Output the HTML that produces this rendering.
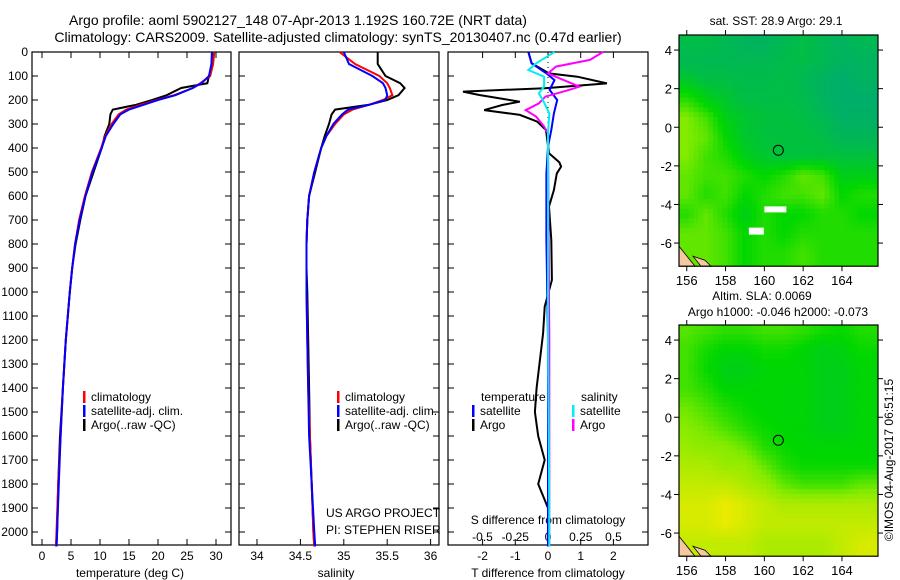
<!DOCTYPE html>
<html><head><meta charset="utf-8">
<style>
html,body{margin:0;padding:0;background:#fff;}
svg{display:block;font-family:"Liberation Sans",sans-serif;}
text{font-size:12px;fill:#000;}
</style></head>
<body>
<svg id="chart" width="900" height="580" viewBox="0 0 900 580" xmlns="http://www.w3.org/2000/svg">
<text x="298" y="25" text-anchor="middle" style="font-size:14px">Argo profile: aoml 5902127_148 07-Apr-2013 1.192S 160.72E (NRT data)</text>
<text x="338" y="42" text-anchor="middle" style="font-size:14px">Climatology: CARS2009. Satellite-adjusted climatology: synTS_20130407.nc (0.47d earlier)</text>
<text x="776" y="25" text-anchor="middle">sat. SST: 28.9 Argo: 29.1</text>
<text x="762" y="300" text-anchor="middle">Altim. SLA: 0.0069</text>
<text x="778" y="316" text-anchor="middle">Argo h1000: -0.046 h2000: -0.073</text>
<text transform="translate(893,460) rotate(-90)" text-anchor="middle">©IMOS 04-Aug-2017 06:51:15</text>
<g id="g"></g>
</svg>
<script>
// ---- profile data ----
const depths = [0,50,100,130,150,180,200,220,240,260,300,350,400,500,600,700,800,900,1000,1200,1400,1600,1800,2000,2060];
const tempClim = [29.7,29.5,29,27.3,26,22.8,19.8,17,14.5,13.2,12,10.9,10.2,8.6,7.4,6.4,5.7,5.2,4.8,4.1,3.6,3.2,2.8,2.5,2.4];
const tempSat = [29.3,29.2,28.8,27.5,26,23,20,17.5,15,13.5,12.3,11,10.3,8.7,7.5,6.5,5.7,5.2,4.8,4.1,3.6,3.2,2.9,2.6,2.5];
const tempArgo = [29.5,29.4,28.8,28.5,24,21.5,19,16.2,12.2,11.8,11.6,10.8,10.3,8.9,7.5,6.6,5.8,5.2,4.8,4.1,3.6,3.1,2.8,2.6,2.5];
const salClim = [34.95,35.13,35.41,35.5,35.53,35.56,35.45,35.29,35.1,35.0,34.9,34.8,34.74,34.66,34.6,34.58,34.57,34.57,34.57,34.58,34.59,34.61,34.63,34.65,34.66];
const salSat = [35.0,35.06,35.33,35.45,35.48,35.5,35.48,35.29,35.05,34.98,34.88,34.8,34.74,34.66,34.6,34.58,34.57,34.57,34.57,34.58,34.59,34.6,34.63,34.66,34.67];
const salArgo = [35.39,35.39,35.48,35.65,35.7,35.63,35.5,35.29,34.9,34.86,34.83,34.78,34.74,34.67,34.6,34.58,34.57,34.57,34.58,34.59,34.6,34.61,34.63,34.65,34.66];
const dTArgoDepth = [0,47,89,103,131,151,165,179,207,221,242,262,290,325,422,460,478,506,575,644,783,950,1061,1172,1400,1500,1600,1700,1800,1900,2000,2060];
const dTArgo = [-0.6,-0.5,0.03,0.9,1.8,-0.1,-2.6,-2.1,-0.86,-1.4,-1.95,-0.86,-0.33,-0.06,0.03,0.35,0.4,0.27,0.18,0.03,0.1,0.12,-0.1,-0.15,-0.35,-0.4,-0.3,-0.1,-0.3,0,0,0];
const dTSatDepth = [0,47,89,117,158,200,256,325,394,506,783,1200,2060];
const dTSat = [-0.6,-0.5,-0.05,0.2,0.05,0.28,0.18,0.1,0,-0.05,-0.05,0,0];
const dSSatDepth = [0,47,75,103,144,172,200,256,339,1200,1900,2060];
const dSSat = [0.05,-0.09,-0.15,-0.03,-0.03,-0.07,-0.04,0.01,0,0,0.01,0.01];
const dSArgoDepth = [0,33,61,89,110,144,158,186,214,242,269,311,339,1200,2060];
const dSArgo = [0.42,0.32,0.06,0,0.09,0.24,0.16,-0.02,-0.07,-0.17,-0.09,-0.03,0,0.01,0.01];
const depthTicks = [0,100,200,300,400,500,600,700,800,900,1000,1100,1200,1300,1400,1500,1600,1700,1800,1900,2000];
const tempTicks = [0,5,10,15,20,25,30];
const salTicks = [34,34.5,35,35.5,36];
const dTTicks = [-2,-1,0,1,2];
const dSTicks = [-0.5,-0.25,0,0.25,0.5];
const dSTickLabels = ['-0.5','-0.25','0','0.25','0.5'];
// ---- map data (rows from lat 4.5 down to -7, cols lon 156..165) ----
const sstGrid = [
[0.4,0.4,0.35,0.3,0.3,0.35,0.4,0.35,0.3,0.35],
[0.35,0.35,0.35,0.35,0.35,0.38,0.4,0.35,0.3,0.3],
[0.45,0.4,0.4,0.38,0.38,0.4,0.35,0.3,0.25,0.3],
[0.6,0.5,0.45,0.4,0.4,0.4,0.38,0.3,0.25,0.25],
[0.75,0.65,0.5,0.45,0.42,0.42,0.4,0.35,0.28,0.28],
[0.75,0.7,0.55,0.45,0.42,0.42,0.42,0.4,0.33,0.33],
[0.75,0.65,0.6,0.5,0.45,0.42,0.42,0.42,0.42,0.42],
[0.7,0.65,0.65,0.6,0.55,0.6,0.7,0.65,0.5,0.5],
[0.7,0.6,0.65,0.55,0.6,0.65,0.65,0.7,0.55,0.6],
[0.6,0.7,0.6,0.5,0.6,0.55,0.55,0.6,0.6,0.55],
[0.7,0.7,0.65,0.55,0.6,0.55,0.6,0.6,0.6,0.6],
[0.7,0.7,0.65,0.55,0.6,0.6,0.65,0.6,0.6,0.6]];
const slaGrid = [
[0.68,0.65,0.62,0.62,0.65,0.65,0.62,0.58,0.56,0.6],
[0.65,0.58,0.54,0.54,0.57,0.57,0.54,0.5,0.52,0.56],
[0.65,0.56,0.5,0.5,0.54,0.54,0.54,0.5,0.5,0.54],
[0.65,0.6,0.54,0.54,0.54,0.54,0.54,0.5,0.5,0.54],
[0.72,0.66,0.6,0.56,0.54,0.54,0.54,0.5,0.5,0.54],
[0.76,0.72,0.66,0.6,0.56,0.54,0.54,0.5,0.5,0.54],
[0.8,0.77,0.76,0.7,0.6,0.56,0.54,0.54,0.54,0.54],
[0.85,0.85,0.8,0.8,0.7,0.6,0.56,0.56,0.56,0.56],
[0.9,0.9,0.9,0.85,0.8,0.7,0.65,0.65,0.65,0.7],
[0.95,0.95,1,0.95,0.9,0.85,0.85,0.85,0.85,0.85],
[0.95,0.95,1,0.95,0.9,0.9,0.9,0.9,0.9,0.9],
[0.9,0.9,0.9,0.9,0.85,0.85,0.85,0.85,0.9,0.95]];
const lonTicks = [156,158,160,162,164];
const latTicks = [4,2,0,-2,-4,-6];
const argoLon = 160.72, argoLat = -1.192;

const NS='http://www.w3.org/2000/svg';
const G=document.getElementById('g');
function mk(tag,attrs,parent){const e=document.createElementNS(NS,tag);for(const k in attrs)e.setAttribute(k,attrs[k]);(parent||G).appendChild(e);return e;}
const TOP=52, BOT=545;
const yD = d => TOP + d*0.24;
const xT = t => 42 + t*5.8;
const xS = s => 257 + (s-34)*86.8;
const xdT = v => 548 + v*32.7;
const xdS = v => 548 + v*131;

function frame(x0,x1,name){
  const r=mk('rect',{x:x0,y:TOP,width:x1-x0,height:BOT-TOP,fill:'none',stroke:'#000','stroke-width':1.2});
  
  
  depthTicks.forEach(d=>{
    mk('line',{x1:x0,x2:x0+6,y1:yD(d),y2:yD(d),stroke:'#000'});
    mk('line',{x1:x1,x2:x1-6,y1:yD(d),y2:yD(d),stroke:'#000'});
  });
}
function line(xs,ds,fx,color,name,w){
  const pts=xs.map((v,i)=>fx(v).toFixed(1)+','+yD(ds[i]).toFixed(1)).join(' ');
  const p=mk('polyline',{points:pts,fill:'none',stroke:color,'stroke-width':w||2});
  
  
}
function txt(x,y,s,anchor,name){
  const t=mk('text',{x:x,y:y,'text-anchor':anchor||'start'});t.textContent=s;
  
  
  return t;
}
function legendItem(bx,y,color,label,name){
  mk('rect',{x:bx,y:y-6,width:2.5,height:12,fill:color});
  txt(bx+8,y+4,label,'start',name);
}

// panel 1: temperature
frame(32,231,'temperature-panel');
depthTicks.forEach(d=>txt(28,yD(d)+4,String(d),'end','depth-tick-label'));
tempTicks.forEach(t=>{mk('line',{x1:xT(t),x2:xT(t),y1:BOT,y2:BOT-6,stroke:'#000'});mk('line',{x1:xT(t),x2:xT(t),y1:TOP,y2:TOP+6,stroke:'#000'});txt(xT(t),560,String(t),'middle','temperature-tick-label');});
txt(130,577,'temperature (deg C)','middle','temperature-axis-title');
line(tempArgo,depths,xT,'#000','temperature-argo-line');
line(tempClim,depths,xT,'#f00','temperature-climatology-line');
line(tempSat,depths,xT,'#00f','temperature-satellite-line');
legendItem(83,397,'#f00','climatology','legend-climatology');
legendItem(83,411,'#00f','satellite-adj. clim.','legend-satellite');
legendItem(83,425,'#000','Argo(..raw -QC)','legend-argo');

// panel 2: salinity
frame(239,439,'salinity-panel');
salTicks.forEach(s=>{mk('line',{x1:xS(s),x2:xS(s),y1:BOT,y2:BOT-6,stroke:'#000'});txt(xS(s),560,String(s),'middle','salinity-tick-label');});
txt(336,577,'salinity','middle','salinity-axis-title');
line(salArgo,depths,xS,'#000','salinity-argo-line');
line(salClim,depths,xS,'#f00','salinity-climatology-line');
line(salSat,depths,xS,'#00f','salinity-satellite-line');
legendItem(337,397,'#f00','climatology','legend-climatology-2');
legendItem(337,411,'#00f','satellite-adj. clim.','legend-satellite-2');
legendItem(337,425,'#000','Argo(..raw -QC)','legend-argo-2');
txt(326,517,'US ARGO PROJECT','start','project-label');
txt(326,534,'PI: STEPHEN RISER','start','pi-label');

// panel 3: differences
frame(448,648,'difference-panel');
dTTicks.forEach(t=>{mk('line',{x1:xdT(t),x2:xdT(t),y1:BOT,y2:BOT-6,stroke:'#000'});mk('line',{x1:xdT(t),x2:xdT(t),y1:TOP,y2:TOP+6,stroke:'#000'});txt(xdT(t),560,String(t),'middle','t-diff-tick-label');});
dSTicks.forEach((s,i)=>txt(xdS(s),541,dSTickLabels[i],'middle','s-diff-tick-label'));
mk('line',{x1:548,x2:548,y1:TOP,y2:BOT,stroke:'#000','stroke-dasharray':'1,4'});
txt(548,524,'S difference from climatology','middle','s-diff-axis-title');
txt(548,577,'T difference from climatology','middle','t-diff-axis-title');
line(dTArgo,dTArgoDepth,xdT,'#000','t-diff-argo-line');
line(dTSat,dTSatDepth,xdT,'#00f','t-diff-satellite-line');
line(dSArgo,dSArgoDepth,xdS,'#f0f','s-diff-argo-line');
line(dSSat,dSSatDepth,xdS,'#0ee','s-diff-satellite-line');
txt(481,401,'temperature','start','legend-temperature-header');
legendItem(472,411,'#00f','satellite','legend-t-satellite');
legendItem(472,425,'#000','Argo','legend-t-argo');
txt(581,401,'salinity','start','legend-salinity-header');
legendItem(572,411,'#0ee','satellite','legend-s-satellite');
legendItem(572,425,'#f0f','Argo','legend-s-argo');

// maps
const stops=[[0.2,[0,168,120]],[0.4,[0,190,70]],[0.55,[0,215,0]],[0.75,[130,235,0]],[1.0,[235,235,0]]];
function cmap(v){
  if(v<=stops[0][0])return 'rgb('+stops[0][1]+')';
  for(let i=1;i<stops.length;i++){if(v<=stops[i][0]){const a=stops[i-1],b=stops[i],f=(v-a[0])/(b[0]-a[0]);return 'rgb('+a[1].map((c,j)=>Math.round(c+(b[1][j]-c)*f)).join(',')+')';}}
  return 'rgb('+stops[stops.length-1][1]+')';
}
function sample(grid,lon,lat){
  // bilinear between cell centres (lon 156..165, lat 4.5..-6.5)
  let cx=lon-156, cy=4.5-lat;
  cx=Math.max(0,Math.min(9,cx)); cy=Math.max(0,Math.min(11,cy));
  const c0=Math.floor(cx), r0=Math.floor(cy), c1=Math.min(9,c0+1), r1=Math.min(11,r0+1);
  const fx=cx-c0, fy=cy-r0;
  return grid[r0][c0]*(1-fx)*(1-fy)+grid[r0][c1]*fx*(1-fy)+grid[r1][c0]*(1-fx)*fy+grid[r1][c1]*fx*fy;
}
function drawMap(grid,top,name){
  const L=679,R=878,lon0=155.6,sc=19.4,latTop=4.78;
  const bot=top+(latTop+7.2)*19.3;
  const xL=lon=>L+(lon-lon0)*sc, yL=lat=>top+(latTop-lat)*19.3;
  const g=mk('g',{});
  
  
  const step=0.25;
  for(let lat=latTop;lat>-7.2;lat-=step){
    for(let lon=lon0;lon<166;lon+=step){
      const v=sample(grid,lon+step/2,lat-step/2);
      const x0=xL(lon), y0=yL(lat);
      const w=Math.min(R,xL(lon+step)+0.6)-x0, h=Math.min(bot,yL(lat-step)+0.6)-y0;
      if(w>0&&h>0) mk('rect',{x:x0.toFixed(1),y:y0.toFixed(1),width:w.toFixed(1),height:h.toFixed(1),fill:cmap(v)},g);
    }
  }
  mk('path',{d:`M${L},${bot-20} L${L+16},${bot} L${L},${bot} Z`,fill:'#f5c8a0',stroke:'#000','stroke-width':0.8},g);
  mk('path',{d:`M${L+14},${bot-10} L${L+26},${bot-6} L${L+32},${bot} L${L+22},${bot} Z`,fill:'#f5c8a0',stroke:'#000','stroke-width':0.8},g);
  mk('rect',{x:L,y:top,width:R-L,height:bot-top,fill:'none',stroke:'#000','stroke-width':1.2},g);
  lonTicks.forEach(lo=>{mk('line',{x1:xL(lo),x2:xL(lo),y1:top,y2:top-5,stroke:'#000'},g);mk('line',{x1:xL(lo),x2:xL(lo),y1:bot,y2:bot+5,stroke:'#000'},g);
    const t=txt(xL(lo),bot+19,String(lo),'middle','map-lon-label');t.style.fontSize='13px';});
  latTicks.forEach(la=>{mk('line',{x1:L,x2:L-5,y1:yL(la),y2:yL(la),stroke:'#000'},g);mk('line',{x1:R,x2:R+5,y1:yL(la),y2:yL(la),stroke:'#000'},g);
    const t=txt(L-7,yL(la)+5,String(la),'end','map-lat-label');t.style.fontSize='13px';});
  const c=mk('circle',{cx:xL(argoLon),cy:yL(argoLat),r:5,fill:'none',stroke:'#000','stroke-width':1},g);
  
  
  return {xL,yL};
}
const m1=drawMap(sstGrid,35,'sst-map');
mk('rect',{x:m1.xL(160),y:m1.yL(-4.1),width:22,height:6,fill:'#fff'});
mk('rect',{x:m1.xL(159.2),y:m1.yL(-5.2),width:15,height:7,fill:'#fff'});
drawMap(slaGrid,325,'sla-map');
</script>
</body></html>
